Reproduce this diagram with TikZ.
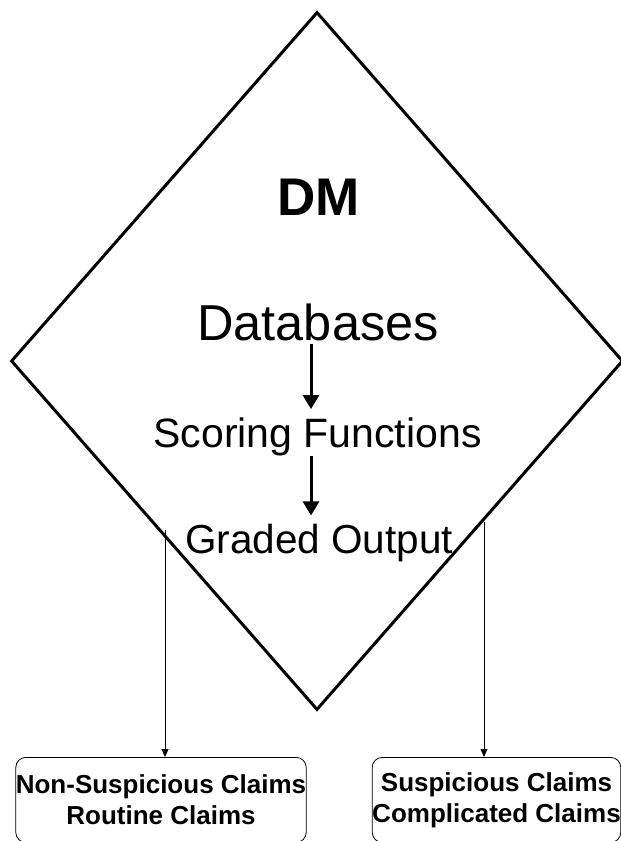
\documentclass[tikz,border=0pt]{standalone}
\usepackage{fontspec}
\setmainfont{Liberation Sans}
\usetikzlibrary{shapes.geometric,arrows.meta}

\begin{document}
\begin{tikzpicture}[x=1pt,y=1pt]
\tikzstyle{every node}+=[inner sep=0pt]
\tikzstyle{claimbox}=[draw=black,line width=0.8pt,rounded corners=10pt,minimum height=85pt,align=center,anchor=north,font=\fontsize{26}{31}\selectfont\bfseries]
\tikzstyle{flowarrow}=[line width=3pt,-{Triangle[width=16pt,length=14pt]}]
\tikzstyle{thinarrow}=[line width=0.8pt,-{Triangle[width=7pt,length=8pt]}]
\useasboundingbox (0,0) rectangle (621,-841);
\clip (0,0) rectangle (621,-841);
\node [draw=black,line width=3pt,shape=diamond,minimum width=612pt,minimum height=698pt] (dm) at (317,-361) {};
\node [anchor=base,font=\fontsize{53}{60}\selectfont\bfseries] (dmtitle) at (318.5,-215) {DM};
\node [anchor=base,font=\fontsize{50.5}{60}\selectfont] (db) at (318,-340) {Databases};
\node [anchor=base,font=\fontsize{41}{48}\selectfont] (sf) at (317.5,-447) {Scoring Functions};
\node [anchor=base,font=\fontsize{40.5}{48}\selectfont] (go) at (319,-553) {Graded Output};
\draw [flowarrow,shorten <=3pt,shorten >=8pt] ([xshift=-7pt]db.south) -- ([xshift=-6.5pt]sf.north);
\draw [flowarrow,shorten >=8pt] ([xshift=-6.5pt]sf.south) -- ([xshift=-8pt]go.north);
\node [claimbox,minimum width=288pt] (lbox) at (161,-757) {Non-Suspicious Claims\\Routine Claims};
\node [claimbox,minimum width=241pt] (rbox) at (496.5,-757) {Suspicious Claims\\Complicated Claims};
\coordinate (lstart) at (165,-530);
\coordinate (rstart) at (484,-522);
\draw [thinarrow] (lstart) -- (lstart |- lbox.north);
\draw [thinarrow] (rstart) -- (rstart |- rbox.north);
\end{tikzpicture}
\end{document}
